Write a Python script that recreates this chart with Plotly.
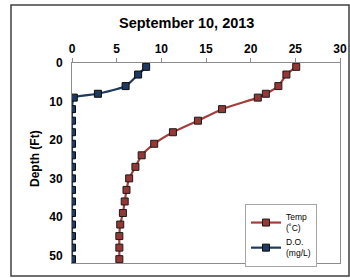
import plotly.graph_objects as go

depth = [1, 3, 6, 8, 9, 12, 15, 18, 21, 24, 27, 30, 33, 36, 39, 42, 45, 48, 51]
temp = [25.1, 24.0, 23.1, 21.7, 20.8, 16.8, 14.1, 11.3, 9.2, 7.8, 7.1, 6.4, 6.1, 5.9, 5.7, 5.4, 5.3, 5.3, 5.3]
do = [8.3, 7.4, 6.0, 2.9, 0.2, 0.0, 0.0, 0.0, 0.0, 0.0, 0.0, 0.0, 0.0, 0.0, 0.0, 0.0, 0.0, 0.0, 0.0]
x_ticks = [0, 5, 10, 15, 20, 25, 30]
y_ticks = [0, 10, 20, 30, 40, 50]

FONT = "Liberation Sans, Arial, sans-serif"
L, R, T, B = 72, 340, 63, 263
PW, PH = R - L, B - T

fig = go.Figure()
fig.add_trace(go.Scatter(
    x=temp, y=depth, name="Temp<br>(˚C)", mode="lines+markers",
    line=dict(color="#A23F3C", width=2.2, shape="spline", smoothing=0.6),
    marker=dict(symbol="square", size=7, color="#953735", line=dict(color="#1a1a1a", width=1)),
))
fig.add_trace(go.Scatter(
    x=do, y=depth, name="D.O.<br>(mg/L)", mode="lines+markers",
    line=dict(color="#1F3A60", width=2.2, shape="spline", smoothing=0.6),
    marker=dict(symbol="square", size=7, color="#1F3A60", line=dict(color="#0a0a0a", width=1)),
))

fig.update_layout(
    width=350, height=278,
    margin=dict(l=L, r=350 - R, t=T, b=278 - B, autoexpand=False),
    paper_bgcolor="white", plot_bgcolor="white",
    font=dict(family=FONT, color="#000000"),
    showlegend=True,
    legend=dict(
        x=(245 - L) / PW, y=(B - 204) / PH, xanchor="left", yanchor="top",
        bgcolor="white", bordercolor="#A6A6A6", borderwidth=1,
        font=dict(size=8.5, family=FONT), itemwidth=30, tracegroupgap=0,
    ),
    xaxis=dict(
        side="top", range=[0, 30], tickvals=x_ticks, ticktext=[str(v) for v in x_ticks],
        showgrid=False, zeroline=False, showline=True, linecolor="#8C8C8C", linewidth=1,
        mirror=True, ticks="outside", ticklen=4, tickcolor="#8C8C8C", automargin=False,
        tickfont=dict(size=12, family=FONT, weight="bold"),
    ),
    yaxis=dict(
        range=[52, 0], tickvals=y_ticks, ticktext=[str(v) for v in y_ticks],
        showgrid=False, zeroline=False, showline=True, linecolor="#8C8C8C", linewidth=1,
        mirror=True, ticks="", ticklabelstandoff=6, automargin=False,
        tickfont=dict(size=12, family=FONT, weight="bold"),
    ),
    annotations=[
        dict(
            text="<b>September 10, 2013</b>", xref="paper", yref="paper",
            x=(186 - L) / PW, y=(B - 23) / PH, xanchor="center", yanchor="middle",
            showarrow=False, font=dict(size=14.5, family=FONT),
        ),
        dict(
            text="<b>Depth (Ft)</b>", xref="paper", yref="paper", textangle=-90,
            x=(35 - L) / PW, y=(B - 159) / PH, xanchor="center", yanchor="middle",
            showarrow=False, font=dict(size=12, family=FONT),
        ),
    ],
    shapes=[dict(
        type="rect", xref="paper", yref="paper",
        x0=(11 - L) / PW, x1=(349 - L) / PW,
        y0=(B - 276) / PH, y1=(B - 5) / PH,
        line=dict(color="#404040", width=1.5), layer="above",
    )],
)

fig.write_html(
    "out.html",
    config={"displayModeBar": False},
    post_script="document.body.style.margin='0';document.body.style.overflow='hidden';",
)
